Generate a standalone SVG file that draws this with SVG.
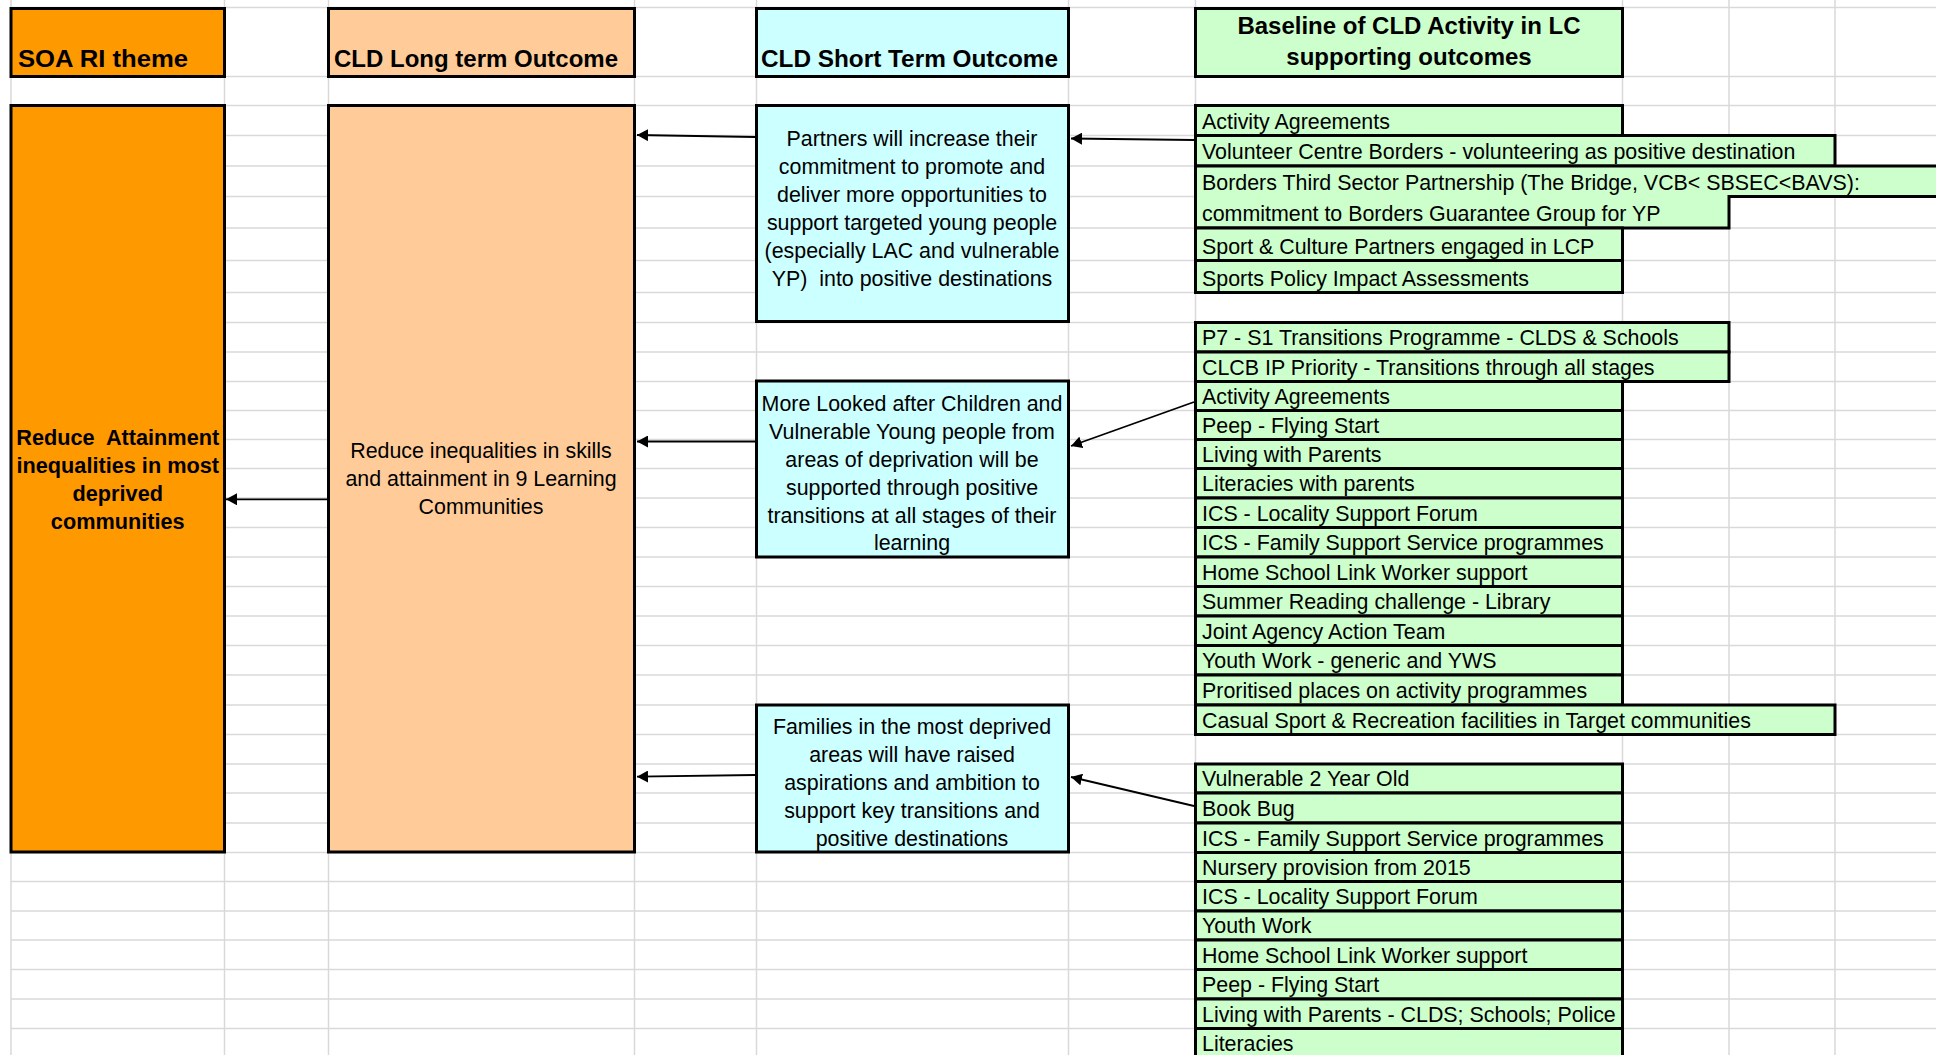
<svg xmlns="http://www.w3.org/2000/svg" width="1936" height="1055" viewBox="0 0 1936 1055">
<style>
.grid line{stroke:#d9d9d9;stroke-width:1.5}
.box{stroke:#000;stroke-width:3}
.o{fill:#ff9900}.p{fill:#ffcc99}.c{fill:#ccffff}.g{fill:#ccffcc}
.h{font-family:"Liberation Sans",Arial,sans-serif;font-weight:bold;font-size:24px;fill:#000}
.t{font-family:"Liberation Sans",Arial,sans-serif;font-size:21.4px;fill:#000}
.b{font-weight:bold;font-size:21.7px}
.m{text-anchor:middle}
.conn{stroke:#000;stroke-width:1.8;fill:none;marker-end:url(#ah)}
</style>
<defs>
<marker id="ah" viewBox="0 0 11 12" refX="11" refY="6" markerWidth="11" markerHeight="12" markerUnits="userSpaceOnUse" orient="auto">
<path d="M0,0 L11,6 L0,12 z" fill="#000"/>
</marker>
</defs>
<rect width="1936" height="1055" fill="#fff"/>
<g class="grid">
<line x1="11" y1="7.5" x2="1936" y2="7.5"/>
<line x1="11" y1="76.5" x2="1936" y2="76.5"/>
<line x1="11" y1="105.5" x2="1936" y2="105.5"/>
<line x1="11" y1="135.5" x2="1936" y2="135.5"/>
<line x1="11" y1="166" x2="1936" y2="166"/>
<line x1="11" y1="196.5" x2="1936" y2="196.5"/>
<line x1="11" y1="228" x2="1936" y2="228"/>
<line x1="11" y1="260.5" x2="1936" y2="260.5"/>
<line x1="11" y1="292.5" x2="1936" y2="292.5"/>
<line x1="11" y1="322.5" x2="1936" y2="322.5"/>
<line x1="11" y1="352" x2="1936" y2="352"/>
<line x1="11" y1="381.5" x2="1936" y2="381.5"/>
<line x1="11" y1="410.5" x2="1936" y2="410.5"/>
<line x1="11" y1="439.5" x2="1936" y2="439.5"/>
<line x1="11" y1="468.5" x2="1936" y2="468.5"/>
<line x1="11" y1="498" x2="1936" y2="498"/>
<line x1="11" y1="527.5" x2="1936" y2="527.5"/>
<line x1="11" y1="557" x2="1936" y2="557"/>
<line x1="11" y1="586.5" x2="1936" y2="586.5"/>
<line x1="11" y1="616" x2="1936" y2="616"/>
<line x1="11" y1="645.5" x2="1936" y2="645.5"/>
<line x1="11" y1="675" x2="1936" y2="675"/>
<line x1="11" y1="705" x2="1936" y2="705"/>
<line x1="11" y1="734.5" x2="1936" y2="734.5"/>
<line x1="11" y1="764" x2="1936" y2="764"/>
<line x1="11" y1="793" x2="1936" y2="793"/>
<line x1="11" y1="823" x2="1936" y2="823"/>
<line x1="11" y1="852.5" x2="1936" y2="852.5"/>
<line x1="11" y1="881.5" x2="1936" y2="881.5"/>
<line x1="11" y1="911" x2="1936" y2="911"/>
<line x1="11" y1="940" x2="1936" y2="940"/>
<line x1="11" y1="969.5" x2="1936" y2="969.5"/>
<line x1="11" y1="999" x2="1936" y2="999"/>
<line x1="11" y1="1028.5" x2="1936" y2="1028.5"/>
<line x1="11" y1="0" x2="11" y2="1055"/>
<line x1="224.5" y1="0" x2="224.5" y2="1055"/>
<line x1="328.5" y1="0" x2="328.5" y2="1055"/>
<line x1="634.5" y1="0" x2="634.5" y2="1055"/>
<line x1="756.5" y1="0" x2="756.5" y2="1055"/>
<line x1="1068.5" y1="0" x2="1068.5" y2="1055"/>
<line x1="1195.5" y1="0" x2="1195.5" y2="1055"/>
<line x1="1622.5" y1="0" x2="1622.5" y2="1055"/>
<line x1="1729" y1="0" x2="1729" y2="1055"/>
<line x1="1835" y1="0" x2="1835" y2="1055"/>
</g>

<g id="hdr-soa"><rect class="box o" x="11" y="8.5" width="213.5" height="68"/><text class="h" x="18" y="66.5" textLength="170" lengthAdjust="spacingAndGlyphs">SOA RI theme</text></g>
<g id="hdr-long"><rect class="box p" x="328.5" y="8.5" width="306" height="68"/><text class="h" x="334" y="66.5" textLength="284" lengthAdjust="spacingAndGlyphs">CLD Long term Outcome</text></g>
<g id="hdr-short"><rect class="box c" x="756.5" y="8.5" width="312" height="68"/><text class="h" x="761" y="66.5" textLength="297" lengthAdjust="spacingAndGlyphs">CLD Short Term Outcome</text></g>
<g id="hdr-baseline"><rect class="box g" x="1195.5" y="8.5" width="427" height="68"/><text class="h m" x="1409" y="33.5">Baseline of CLD Activity in LC</text><text class="h m" x="1409" y="65">supporting outcomes</text></g>

<g id="soa-theme"><rect class="box o" x="11" y="105.5" width="213.5" height="746.5"/>
<text class="t b m" x="117.75" y="445" xml:space="preserve">Reduce  Attainment</text>
<text class="t b m" x="117.75" y="473">inequalities in most</text>
<text class="t b m" x="117.75" y="501">deprived</text>
<text class="t b m" x="117.75" y="529">communities</text></g>

<g id="long-term"><rect class="box p" x="328.5" y="105.5" width="306" height="746.5"/>
<text class="t m" x="481" y="457.5">Reduce inequalities in skills</text>
<text class="t m" x="481" y="485.5">and attainment in 9 Learning</text>
<text class="t m" x="481" y="513.5">Communities</text></g>

<g id="short-1"><rect class="box c" x="756.5" y="105.5" width="312" height="216"/>
<text class="t m" x="912" y="145.5">Partners will increase their</text>
<text class="t m" x="912" y="173.5">commitment to promote and</text>
<text class="t m" x="912" y="201.5">deliver more opportunities to</text>
<text class="t m" x="912" y="229.5">support targeted young people</text>
<text class="t m" x="912" y="257.5">(especially LAC and vulnerable</text>
<text class="t m" x="912" y="285.5" xml:space="preserve">YP)  into positive destinations</text></g>

<g id="short-2"><rect class="box c" x="756.5" y="381" width="312" height="176"/>
<text class="t m" x="912" y="410.5">More Looked after Children and</text>
<text class="t m" x="912" y="438.5">Vulnerable Young people from</text>
<text class="t m" x="912" y="466.5">areas of deprivation will be</text>
<text class="t m" x="912" y="494.5">supported through positive</text>
<text class="t m" x="912" y="522.5">transitions at all stages of their</text>
<text class="t m" x="912" y="550">learning</text></g>

<g id="short-3"><rect class="box c" x="756.5" y="705" width="312" height="147"/>
<text class="t m" x="912" y="733.5">Families in the most deprived</text>
<text class="t m" x="912" y="761.5">areas will have raised</text>
<text class="t m" x="912" y="789.5">aspirations and ambition to</text>
<text class="t m" x="912" y="817.5">support key transitions and</text>
<text class="t m" x="912" y="845.5">positive destinations</text></g>

<g id="baseline-1">
<rect class="box g" x="1195.5" y="105.5" width="427" height="30"/><text class="t" x="1202" y="129">Activity Agreements</text>
<rect class="box g" x="1195.5" y="135.5" width="639.5" height="30.5"/><text class="t" x="1202" y="159">Volunteer Centre Borders - volunteering as positive destination</text>
<path class="box g" d="M1195.5,166 H1945 V196.5 H1729 V228 H1195.5 Z"/><text class="t" x="1202" y="189.5">Borders Third Sector Partnership (The Bridge, VCB&lt; SBSEC&lt;BAVS):</text><text class="t" x="1202" y="221">commitment to Borders Guarantee Group for YP</text>
<rect class="box g" x="1195.5" y="228" width="427" height="32.5"/><text class="t" x="1202" y="253.5">Sport &amp; Culture Partners engaged in LCP</text>
<rect class="box g" x="1195.5" y="260.5" width="427" height="32"/><text class="t" x="1202" y="285.5">Sports Policy Impact Assessments</text>
</g>

<g id="baseline-2">
<rect class="box g" x="1195.5" y="322.5" width="533.5" height="29.5"/><text class="t" x="1202" y="345">P7 - S1 Transitions Programme - CLDS &amp; Schools</text>
<rect class="box g" x="1195.5" y="352" width="533.5" height="29.5"/><text class="t" x="1202" y="374.5">CLCB IP Priority - Transitions through all stages</text>
<rect class="box g" x="1195.5" y="381.5" width="427" height="29"/><text class="t" x="1202" y="403.5">Activity Agreements</text>
<rect class="box g" x="1195.5" y="410.5" width="427" height="29"/><text class="t" x="1202" y="432.5">Peep - Flying Start</text>
<rect class="box g" x="1195.5" y="439.5" width="427" height="29"/><text class="t" x="1202" y="461.5">Living with Parents</text>
<rect class="box g" x="1195.5" y="468.5" width="427" height="29.5"/><text class="t" x="1202" y="491">Literacies with parents</text>
<rect class="box g" x="1195.5" y="498" width="427" height="29.5"/><text class="t" x="1202" y="520.5">ICS - Locality Support Forum</text>
<rect class="box g" x="1195.5" y="527.5" width="427" height="29.5"/><text class="t" x="1202" y="550">ICS - Family Support Service programmes</text>
<rect class="box g" x="1195.5" y="557" width="427" height="29.5"/><text class="t" x="1202" y="579.5">Home School Link Worker support</text>
<rect class="box g" x="1195.5" y="586.5" width="427" height="29.5"/><text class="t" x="1202" y="609">Summer Reading challenge - Library</text>
<rect class="box g" x="1195.5" y="616" width="427" height="29.5"/><text class="t" x="1202" y="638.5">Joint Agency Action Team</text>
<rect class="box g" x="1195.5" y="645.5" width="427" height="29.5"/><text class="t" x="1202" y="668">Youth Work - generic and YWS</text>
<rect class="box g" x="1195.5" y="675" width="427" height="30"/><text class="t" x="1202" y="698">Proritised places on activity programmes</text>
<rect class="box g" x="1195.5" y="705" width="639.5" height="29.5"/><text class="t" x="1202" y="727.5">Casual Sport &amp; Recreation facilities in Target communities</text>
</g>

<g id="baseline-3">
<rect class="box g" x="1195.5" y="764" width="427" height="29"/><text class="t" x="1202" y="786">Vulnerable 2 Year Old</text>
<rect class="box g" x="1195.5" y="793" width="427" height="30"/><text class="t" x="1202" y="816">Book Bug</text>
<rect class="box g" x="1195.5" y="823" width="427" height="29.5"/><text class="t" x="1202" y="845.5">ICS - Family Support Service programmes</text>
<rect class="box g" x="1195.5" y="852.5" width="427" height="29"/><text class="t" x="1202" y="874.5">Nursery provision from 2015</text>
<rect class="box g" x="1195.5" y="881.5" width="427" height="29.5"/><text class="t" x="1202" y="904">ICS - Locality Support Forum</text>
<rect class="box g" x="1195.5" y="911" width="427" height="29"/><text class="t" x="1202" y="933">Youth Work</text>
<rect class="box g" x="1195.5" y="940" width="427" height="29.5"/><text class="t" x="1202" y="962.5">Home School Link Worker support</text>
<rect class="box g" x="1195.5" y="969.5" width="427" height="29.5"/><text class="t" x="1202" y="992">Peep - Flying Start</text>
<rect class="box g" x="1195.5" y="999" width="427" height="29.5"/><text class="t" x="1202" y="1021.5">Living with Parents - CLDS; Schools; Police</text>
<rect class="box g" x="1195.5" y="1028.5" width="427" height="32"/><text class="t" x="1202" y="1051">Literacies</text>
</g>

<g id="connectors">
<path class="conn" d="M755,137 L637,135"/>
<path class="conn" d="M1194,140 L1071,138.5"/>
<path class="conn" d="M755,441.5 L637,441.5"/>
<path class="conn" d="M1194,402 L1071,446"/>
<path class="conn" d="M327,499.3 L226,499.3"/>
<path class="conn" d="M755,775 L637,776.7"/>
<path class="conn" d="M1194,806 L1071,777"/>
</g>
</svg>
